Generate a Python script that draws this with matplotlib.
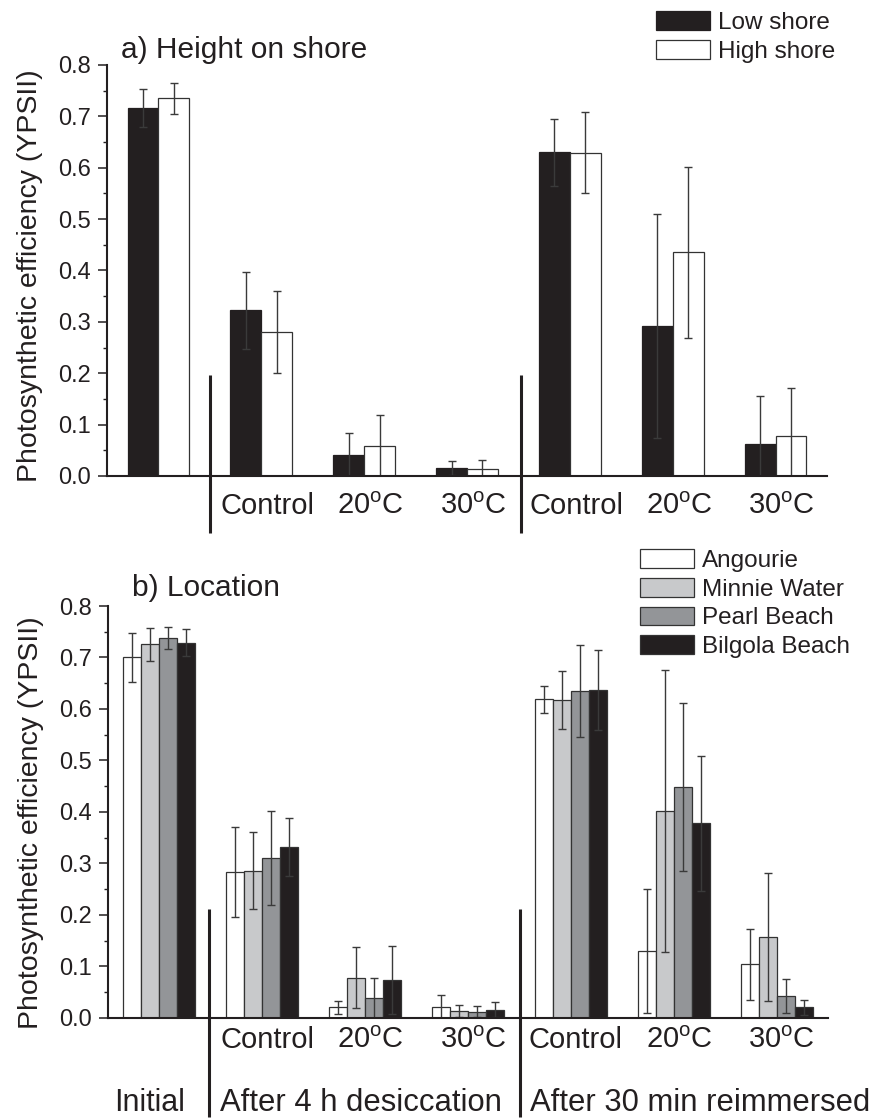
import numpy as np
import matplotlib
matplotlib.use('Agg')
import matplotlib.pyplot as plt

plt.rcParams['font.family'] = ['Liberation Sans', 'DejaVu Sans']
plt.rcParams['mathtext.fontset'] = 'custom'
plt.rcParams['mathtext.rm'] = 'Liberation Sans'
plt.rcParams['mathtext.it'] = 'Liberation Sans:italic'

INK = '#231f20'

# 7 groups: initial, 3 after desiccation, 3 after reimmersion
cond_labels = ['', 'Control', r'20$^{\rm o}$C', r'30$^{\rm o}$C',
               'Control', r'20$^{\rm o}$C', r'30$^{\rm o}$C']
phase_labels = ['Initial', 'After 4 h desiccation', 'After 30 min reimmersed']

# a) height on shore
low_mean = [0.716, 0.323, 0.041, 0.016, 0.630, 0.291, 0.062]
low_err = [0.037, 0.075, 0.042, 0.014, 0.065, 0.218, 0.093]
high_mean = [0.735, 0.280, 0.059, 0.013, 0.629, 0.435, 0.078]
high_err = [0.030, 0.080, 0.060, 0.019, 0.079, 0.166, 0.094]

# b) location
angourie = [0.700, 0.283, 0.020, 0.021, 0.619, 0.130, 0.104]
angourie_err = [0.047, 0.087, 0.012, 0.024, 0.026, 0.120, 0.069]
minnie = [0.726, 0.286, 0.078, 0.013, 0.617, 0.402, 0.157]
minnie_err = [0.032, 0.075, 0.060, 0.012, 0.056, 0.274, 0.125]
pearl = [0.738, 0.311, 0.038, 0.012, 0.635, 0.449, 0.042]
pearl_err = [0.021, 0.091, 0.040, 0.010, 0.090, 0.163, 0.033]
bilgola = [0.729, 0.332, 0.074, 0.016, 0.637, 0.378, 0.020]
bilgola_err = [0.027, 0.056, 0.066, 0.015, 0.078, 0.131, 0.014]

x = np.arange(len(cond_labels))

fig = plt.figure(figsize=(8.75, 11.2), dpi=100)
ax1 = fig.add_axes([0.1223, 0.575, 0.8229, 0.367])
ax2 = fig.add_axes([0.1234, 0.0913, 0.8229, 0.3676])

ekw = dict(ecolor='#3a3a3a', elinewidth=1.0, capsize=3.0, capthick=1.0)


def style_axis(ax):
    ax.set_xlim(-0.5, 6.5)
    ax.set_ylim(0, 0.8)
    ax.spines['top'].set_visible(False)
    ax.spines['right'].set_visible(False)
    ax.spines['left'].set_linewidth(1.5)
    ax.spines['bottom'].set_linewidth(1.5)
    ax.spines['left'].set_color(INK)
    ax.spines['bottom'].set_color(INK)
    ax.set_xticks([])
    ax.set_yticks(np.arange(0, 0.81, 0.1))
    ax.set_yticks(np.arange(0.05, 0.8, 0.1), minor=True)
    ax.set_yticklabels(['%.1f' % v for v in np.arange(0, 0.81, 0.1)])
    ax.tick_params(axis='y', which='major', length=6.2, width=1.1, pad=5.5,
                   labelsize=17, colors=INK)
    ax.tick_params(axis='y', which='minor', length=3.2, width=1.0, colors=INK)
    ax.set_ylabel('Photosynthetic efficiency (YPSII)', fontsize=20.5, color=INK)


# ---- panel a
w = 0.3
ax1.bar(x - w / 2, low_mean, w, yerr=low_err, color=INK, edgecolor=INK,
        linewidth=0.9, error_kw=ekw, label='Low shore')
ax1.bar(x + w / 2, high_mean, w, yerr=high_err, color='white', edgecolor='#333333',
        linewidth=0.9, error_kw=ekw, label='High shore')
style_axis(ax1)
ax1.yaxis.set_label_coords(-0.089, 0.488)

# ---- panel b
w2 = 0.175
series = [(angourie, angourie_err, 'white', 'Angourie'),
          (minnie, minnie_err, '#c8c9cb', 'Minnie Water'),
          (pearl, pearl_err, '#939598', 'Pearl Beach'),
          (bilgola, bilgola_err, INK, 'Bilgola Beach')]
for i, (m, e, c, lab) in enumerate(series):
    ax2.bar(x + (i - 1.5) * w2, m, w2, yerr=e, color=c, edgecolor='#333333',
            linewidth=0.9, error_kw=ekw, label=lab)
style_axis(ax2)
ax2.yaxis.set_label_coords(-0.089, 0.473)

# phase separators
sep_x = [0.5, 3.52]
for sx in sep_x:
    ax1.plot([sx, sx], [0.197, -0.111], color=INK, lw=2.2, clip_on=False,
             solid_capstyle='butt')
    ax2.plot([sx - 0.015, sx - 0.015], [0.212, -0.193], color=INK, lw=2.2, clip_on=False,
             solid_capstyle='butt')

# condition labels under the axes
for i in range(1, len(cond_labels)):
    ax1.text(x[i] + 0.06, -0.073, cond_labels[i], ha='center', va='baseline',
             fontsize=21, color=INK)
    ax2.text(x[i] + 0.05, -0.059, cond_labels[i], ha='center', va='baseline',
             fontsize=21, color=INK)

# phase labels
ax2.text(-0.1, -0.181, phase_labels[0], ha='center', va='baseline', fontsize=22, color=INK)
ax2.text(0.59, -0.181, phase_labels[1], ha='left', va='baseline', fontsize=22.3, color=INK)
ax2.text(3.6, -0.181, phase_labels[2], ha='left', va='baseline', fontsize=22.3, color=INK)

# titles
fig.text(0.138, 0.948, 'a) Height on shore', fontsize=21.5, color=INK, va='baseline')
fig.text(0.1505, 0.4679, 'b) Location', fontsize=21.5, color=INK, va='baseline')

# legends
leg_kw = dict(loc='upper left', bbox_transform=fig.transFigure, frameon=False,
              fontsize=17.5, handlelength=2.22, handleheight=0.82, handletextpad=0.33,
              labelspacing=0.24, borderpad=0, borderaxespad=0, labelcolor=INK)
ax1.legend(bbox_to_anchor=(0.7497, 0.990), **leg_kw)
ax2.legend(bbox_to_anchor=(0.7314, 0.5097), **leg_kw)

plt.savefig('out.png', dpi=100)
